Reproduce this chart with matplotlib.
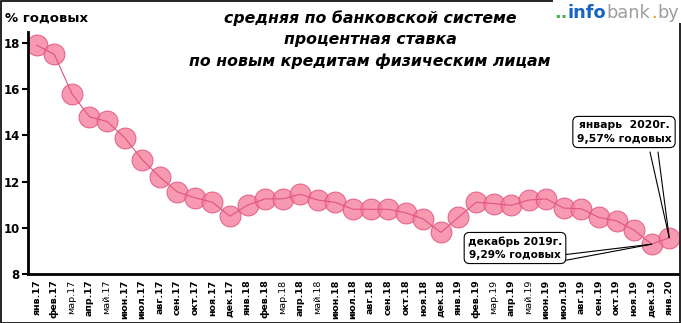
import numpy as np
import matplotlib.pyplot as plt
from matplotlib.patches import Rectangle

# средняя ставка по новым кредитам физлицам, % годовых
months = ['янв', 'фев', 'мар', 'апр', 'май', 'июн', 'июл', 'авг', 'сен', 'окт', 'ноя', 'дек']
labels = [f'{m}.{y}' for y in ('17', '18', '19') for m in months] + ['янв.20']
rates = [17.9, 17.5, 15.8, 14.8, 14.6, 13.9, 12.95, 12.2, 11.55, 11.3, 11.1, 10.5,
         10.98, 11.25, 11.25, 11.45, 11.2, 11.1, 10.8, 10.8, 10.8, 10.65, 10.38, 9.8,
         10.45, 11.1, 11.05, 10.97, 11.2, 11.25, 10.85, 10.82, 10.45, 10.3, 9.9, 9.29,
         9.57]
yticks = [8, 10, 12, 14, 16, 18]

fig = plt.figure(figsize=(6.81, 3.23), dpi=100)
ax = fig.add_axes([28 / 681, 49 / 323, 650 / 681, 242 / 323])

x = np.arange(len(rates))
ax.plot(x, rates, color='#e0557a', lw=0.8, zorder=3)
ax.plot(x, rates, ls='none', marker='o', ms=15, mfc='#f5809e', mec='#e0507a',
        mew=0.8, alpha=0.8, zorder=2)

ax.set_xlim(-0.5, len(rates) - 0.5)
ax.set_ylim(8, 18.47)
ax.set_yticks(yticks)
ax.set_yticklabels([str(v) for v in yticks], fontsize=8.5, fontweight='bold')
ax.set_xticks(x)
ax.set_xticklabels(labels, rotation=90, fontsize=6.8, fontweight='bold')
for t in ax.get_xticklabels():
    if t.get_text()[:3] in ('мар', 'май'):
        t.set_fontweight('normal')
ax.tick_params(axis='x', length=0, pad=4)
ax.tick_params(axis='y', length=4, width=1.5, pad=2)
for side in ('top', 'right'):
    ax.spines[side].set_visible(False)
for side in ('left', 'bottom'):
    ax.spines[side].set_linewidth(2)

fig.text(5 / 681, 1 - 18 / 323, '% годовых', fontsize=9.5, fontweight='bold',
         va='center', ha='left')
title = 'средняя по банковской системе\nпроцентная ставка\nпо новым кредитам физическим лицам'
fig.text(370 / 681, 1 - 40 / 323, title, fontsize=11.3, fontweight='bold', style='italic',
         ha='center', va='center', linespacing=1.5)

# выноски
box = dict(boxstyle='round,pad=0.35,rounding_size=0.5', fc='white', ec='black', lw=0.8)
ax.annotate('январь  2020г.\n9,57% годовых', xy=(x[-1], rates[-1]),
            xytext=(624, 323 - 132), textcoords='figure pixels', ha='center', va='center',
            fontsize=7.8, fontweight='bold', bbox=box, linespacing=1.45, zorder=5)
for px in (650, 658):
    ax.annotate('', xy=(x[-1], rates[-1]), xytext=(px, 323 - 152),
                textcoords='figure pixels',
                arrowprops=dict(arrowstyle='-', lw=0.8, color='black',
                                shrinkA=0, shrinkB=0), zorder=4)
ax.annotate('декабрь 2019г.\n9,29% годовых', xy=(x[-2], rates[-2]),
            xytext=(515, 323 - 248), textcoords='figure pixels', ha='center', va='center',
            fontsize=7.6, fontweight='bold', bbox=box, linespacing=1.4, zorder=5)
for py in (255, 261):
    ax.annotate('', xy=(x[-2], rates[-2]), xytext=(562, 323 - py),
                textcoords='figure pixels',
                arrowprops=dict(arrowstyle='-', lw=0.8, color='black',
                                shrinkA=0, shrinkB=0), zorder=4)

# рамка рисунка, разорванная под логотипом
fig.patches.append(Rectangle((0.5 / 681, 0.5 / 323), 679.5 / 681, 321.5 / 323,
                             transform=fig.transFigure, fill=False, ec='black', lw=1.2))
fig.patches.append(Rectangle((553 / 681, 300 / 323), 128 / 681, 23 / 323,
                             transform=fig.transFigure, fc='white', ec='none'))

# логотип: части подряд, каждая после предыдущей
renderer = fig.canvas.get_renderer()
parts = [('..', '#4caf50', 'bold'), ('info', '#1565c0', 'bold'),
         ('bank', '#9e9e9e', 'normal'), ('.', '#f39c12', 'normal'), ('by', '#9e9e9e', 'normal')]
xpos = 554
for s, c, w in parts:
    t = fig.text(xpos / 681, 1 - 18 / 323, s, color=c, fontsize=12.8, fontweight=w,
                 ha='left', va='baseline')
    xpos += t.get_window_extent(renderer).width + 0.5

fig.savefig('out.png', dpi=100)
